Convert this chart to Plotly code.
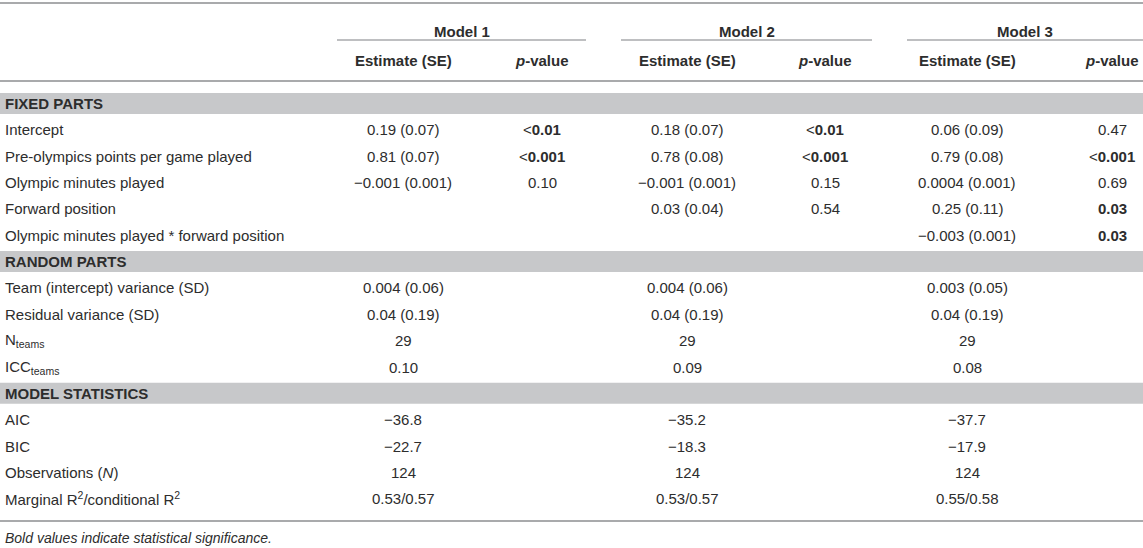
import plotly.graph_objects as go

# ---------------- data ----------------
models = ["Model 1", "Model 2", "Model 3"]
sub_headers = ["Estimate (SE)", "<i>p</i>-value"]

sections = ["FIXED PARTS", "RANDOM PARTS", "MODEL STATISTICS"]

fixed_labels = ["Intercept", "Pre-olympics points per game played", "Olympic minutes played",
                "Forward position", "Olympic minutes played * forward position"]
fixed_m1_est = ["0.19 (0.07)", "0.81 (0.07)", "−0.001 (0.001)", "", ""]
fixed_m1_p = ["<0.01", "<0.001", "0.10", "", ""]
fixed_m2_est = ["0.18 (0.07)", "0.78 (0.08)", "−0.001 (0.001)", "0.03 (0.04)", ""]
fixed_m2_p = ["<0.01", "<0.001", "0.15", "0.54", ""]
fixed_m3_est = ["0.06 (0.09)", "0.79 (0.08)", "0.0004 (0.001)", "0.25 (0.11)", "−0.003 (0.001)"]
fixed_m3_p = ["0.47", "<0.001", "0.69", "0.03", "0.03"]
fixed_m1_sig = [True, True, False, False, False]
fixed_m2_sig = [True, True, False, False, False]
fixed_m3_sig = [False, True, False, True, True]

random_labels = ["Team (intercept) variance (SD)", "Residual variance (SD)",
                 "N<sub>teams</sub>", "ICC<sub>teams</sub>"]
random_m1 = ["0.004 (0.06)", "0.04 (0.19)", "29", "0.10"]
random_m2 = ["0.004 (0.06)", "0.04 (0.19)", "29", "0.09"]
random_m3 = ["0.003 (0.05)", "0.04 (0.19)", "29", "0.08"]

stat_labels = ["AIC", "BIC", "Observations (<i>N</i>)", "Marginal R<sup>2</sup>/conditional R<sup>2</sup>"]
stat_m1 = ["−36.8", "−22.7", "124", "0.53/0.57"]
stat_m2 = ["−35.2", "−18.3", "124", "0.53/0.57"]
stat_m3 = ["−37.7", "−17.9", "124", "0.55/0.58"]

footnote = "Bold values indicate statistical significance."

# ---------------- layout constants ----------------
W, H = 1143, 548
FONT = "Liberation Sans, Arial, Helvetica, sans-serif"
TXT = "#2d2d2d"
BAND = "#c7c8ca"
LINE = "#a9aaac"
FS = 15

label_x = 3
model_span = [(337, 586), (621, 872), (907, 1143)]
est_x = [403, 687, 967]
p_x = [542, 825, 1112]

row0 = 103.5
step = 26.35

annotations = []
shapes = []


def txt(x, y, s, anchor="center", bold=False, size=FS, italic=False):
    if bold:
        s = "<b>" + s + "</b>"
    if italic:
        s = "<i>" + s + "</i>"
    annotations.append(dict(x=x, y=y, xref="x", yref="y", text=s, showarrow=False,
                            xanchor=anchor, yanchor="middle",
                            font=dict(family=FONT, size=size, color=TXT)))


def pval(v, sig):
    if not v:
        return ""
    if sig:
        if v.startswith("<"):
            return "&lt;<b>" + v[1:] + "</b>"
        return "<b>" + v + "</b>"
    return v.replace("<", "&lt;")


def hline(x0, x1, y, w=2):
    shapes.append(dict(type="line", xref="x", yref="y", x0=x0, x1=x1, y0=y, y1=y,
                       line=dict(color=LINE, width=w)))


def band(y):
    shapes.append(dict(type="rect", xref="x", yref="y", x0=0, x1=W, y0=y - 10.5, y1=y + 10.5,
                       fillcolor=BAND, line=dict(width=0), layer="below"))


# header
hline(0, W, 3)
for i, m in enumerate(models):
    x0, x1 = model_span[i]
    txt((x0 + x1) / 2, 31, m, bold=True)
    hline(x0, x1, 40, w=1.5)
    txt(est_x[i], 60, sub_headers[0], bold=True)
    txt(p_x[i], 60, sub_headers[1], bold=True)
hline(0, W, 81)

k = 0
# fixed parts
y = row0 + step * k
band(y)
txt(label_x, y, sections[0], anchor="left", bold=True)
k += 1
ests = [fixed_m1_est, fixed_m2_est, fixed_m3_est]
ps = [fixed_m1_p, fixed_m2_p, fixed_m3_p]
sigs = [fixed_m1_sig, fixed_m2_sig, fixed_m3_sig]
for r, lab in enumerate(fixed_labels):
    y = row0 + step * k
    txt(label_x, y, lab, anchor="left")
    for m in range(3):
        if ests[m][r]:
            txt(est_x[m], y, ests[m][r])
        if ps[m][r]:
            txt(p_x[m], y, pval(ps[m][r], sigs[m][r]))
    k += 1

# random parts
y = row0 + step * k
band(y)
txt(label_x, y, sections[1], anchor="left", bold=True)
k += 1
rvals = [random_m1, random_m2, random_m3]
for r, lab in enumerate(random_labels):
    y = row0 + step * k
    txt(label_x, y, lab, anchor="left")
    for m in range(3):
        txt(est_x[m], y, rvals[m][r])
    k += 1

# model statistics
y = row0 + step * k
band(y)
txt(label_x, y, sections[2], anchor="left", bold=True)
k += 1
svals = [stat_m1, stat_m2, stat_m3]
for r, lab in enumerate(stat_labels):
    y = row0 + step * k
    txt(label_x, y, lab, anchor="left")
    for m in range(3):
        txt(est_x[m], y, svals[m][r])
    k += 1

hline(0, W, 521)
txt(label_x, 538, footnote, anchor="left", italic=True, size=14)

fig = go.Figure()
fig.update_layout(
    width=W, height=H,
    margin=dict(l=0, r=0, t=0, b=0),
    paper_bgcolor="white", plot_bgcolor="white",
    xaxis=dict(range=[0, W], visible=False, fixedrange=True),
    yaxis=dict(range=[H, 0], visible=False, fixedrange=True),
    annotations=annotations, shapes=shapes, showlegend=False,
)
fig.write_html("out.html", config={"displayModeBar": False},
               post_script="document.body.style.margin='0';document.body.style.overflow='hidden';")
